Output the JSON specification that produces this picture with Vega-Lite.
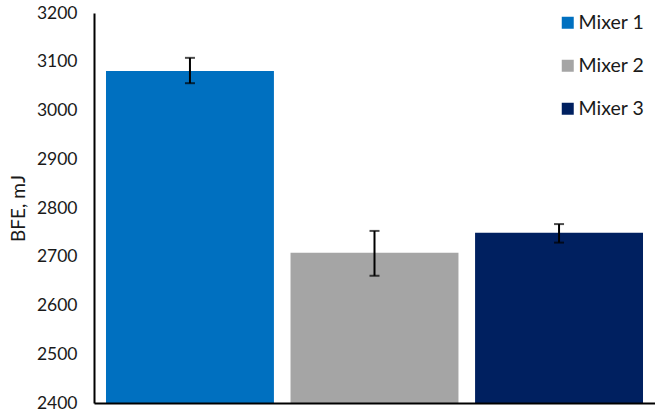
{
  "$schema": "https://vega.github.io/schema/vega-lite/v6.json",
  "width": 561,
  "height": 390,
  "autosize": {"type": "none"},
  "padding": {"left": 94, "top": 13, "right": 0, "bottom": 11},
  "background": "white",
  "config": {
    "view": {"stroke": null},
    "font": "Lato",
    "axis": {"labelFont": "Lato", "titleFont": "Lato"},
    "legend": {"labelFont": "Lato"}
  },
  "data": {
    "values": [
      {"mixer": "Mixer 1", "bfe": 3081, "lo": 3056, "hi": 3108},
      {"mixer": "Mixer 2", "bfe": 2708, "lo": 2661, "hi": 2753},
      {"mixer": "Mixer 3", "bfe": 2749, "lo": 2729, "hi": 2767}
    ]
  },
  "encoding": {
    "x": {
      "field": "mixer",
      "type": "nominal",
      "scale": {"paddingInner": 0.09, "paddingOuter": 0.065},
      "axis": {
        "title": null,
        "labels": false,
        "ticks": false,
        "domainColor": "black",
        "domainWidth": 2,
        "zindex": 1
      }
    }
  },
  "layer": [
    {
      "mark": {"type": "bar", "clip": true},
      "encoding": {
        "y": {
          "field": "bfe",
          "type": "quantitative",
          "title": "BFE, mJ",
          "scale": {"domain": [2400, 3200], "zero": false, "nice": false},
          "axis": {
            "values": [2400, 2500, 2600, 2700, 2800, 2900, 3000, 3100, 3200],
            "format": "d",
            "grid": false,
            "ticks": false,
            "labelPadding": 17,
            "labelFontSize": 17.5,
            "labelColor": "#1a1a1a",
            "titleFontSize": 19,
            "titleFontWeight": "normal",
            "titleColor": "#1a1a1a",
            "titlePadding": 8,
            "domainColor": "black",
            "domainWidth": 2,
            "zindex": 1
          }
        },
        "color": {
          "field": "mixer",
          "type": "nominal",
          "scale": {
            "domain": ["Mixer 1", "Mixer 2", "Mixer 3"],
            "range": ["#0070C0", "#A5A5A5", "#002060"]
          },
          "legend": {
            "title": null,
            "orient": "none",
            "legendX": 464,
            "legendY": 0,
            "symbolType": "square",
            "symbolSize": 144,
            "symbolStrokeWidth": 0,
            "labelFontSize": 19.5,
            "labelColor": "#1a1a1a",
            "labelOffset": 1,
            "rowPadding": 22
          }
        }
      }
    },
    {
      "mark": {"type": "rule", "color": "black", "strokeWidth": 2},
      "encoding": {
        "y": {"field": "lo", "type": "quantitative"},
        "y2": {"field": "hi"}
      }
    },
    {
      "mark": {"type": "tick", "color": "black", "thickness": 2, "size": 10},
      "encoding": {
        "y": {"field": "lo", "type": "quantitative"}
      }
    },
    {
      "mark": {"type": "tick", "color": "black", "thickness": 2, "size": 10},
      "encoding": {
        "y": {"field": "hi", "type": "quantitative"}
      }
    }
  ]
}
